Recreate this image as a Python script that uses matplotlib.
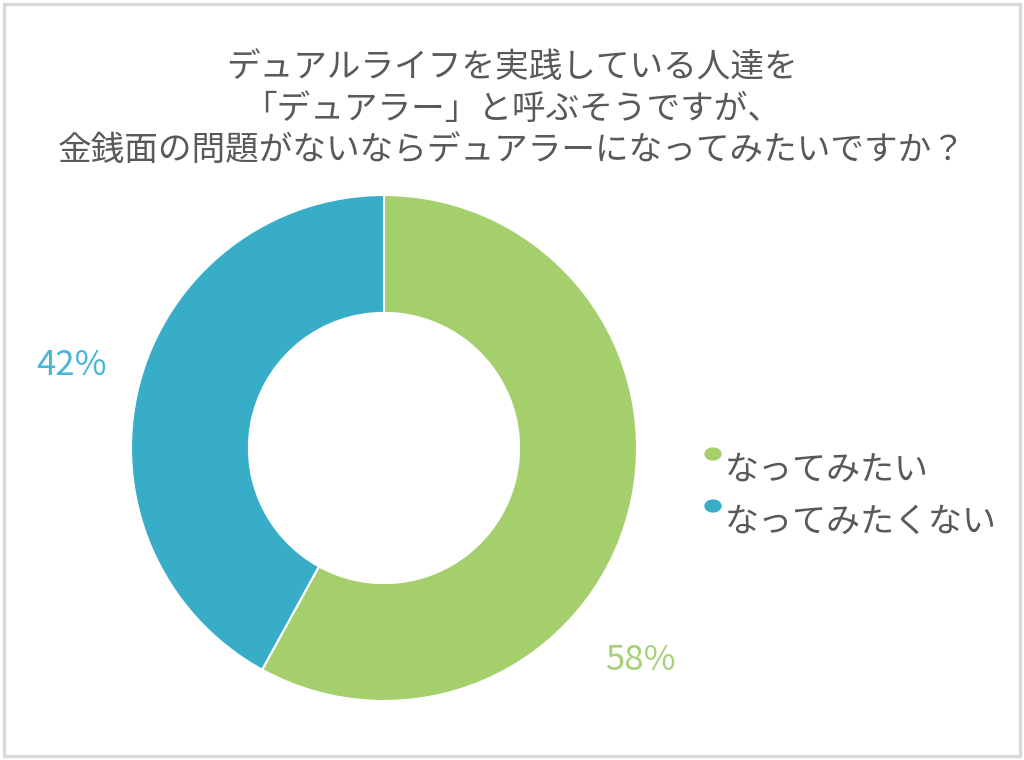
import matplotlib.pyplot as plt
from matplotlib.patches import Rectangle

plt.rcParams['font.family'] = ['Noto Sans CJK JP', 'DejaVu Sans']

title_lines = [
    'デュアルライフを実践している人達を',
    '「デュアラー」と呼ぶそうですが、',
    '金銭面の問題がないならデュアラーになってみたいですか？',
]
categories = ['なってみたい', 'なってみたくない']
shares = [58, 42]
colors = ['#A5CE6C', '#38ADC8']
label_colors = ['#A8D077', '#45B6D6']
text_color = '#595959'


def main():
    fig = plt.figure(figsize=(10.24, 7.6), dpi=100)
    fig.patches.append(Rectangle((0.004, 0.005), 0.992, 0.99, transform=fig.transFigure,
                                 fill=False, edgecolor='#D9D9D9', linewidth=2.5))

    # title, three centred lines
    for i, line in enumerate(title_lines):
        fig.text(0.5, 1 - (68 + 41 * i) / 760, line, ha='center', va='center',
                 fontsize=24.2, color=text_color)

    # donut
    cx, cy, r = 384, 448, 253
    ax = fig.add_axes([(cx - r) / 1024, (760 - cy - r) / 760, 2 * r / 1024, 2 * r / 760])
    ax.pie(shares, colors=colors, startangle=90, counterclock=False, radius=1,
           wedgeprops=dict(width=0.466, edgecolor='white', linewidth=1.5))
    ax.set_xlim(-1, 1)
    ax.set_ylim(-1, 1)
    ax.set_aspect('equal')
    ax.axis('off')

    # percentage labels
    label_pos = [(1.012, -0.838), (-1.233, 0.328)]
    for val, col, (lx, ly) in zip(shares, label_colors, label_pos):
        ax.text(lx, ly, f'{val}%', ha='center', va='center', fontsize=25,
                color=col, clip_on=False)

    # legend
    for i, (name, col) in enumerate(zip(categories, colors)):
        y = 468 + 52 * i
        fig.patches.append(plt.Circle((713 / 1024, 1 - (y - 14) / 760), 0.0078,
                                      transform=fig.transFigure, color=col))
        fig.text(725 / 1024, 1 - (y + 2) / 760, name, ha='left', va='center',
                 fontsize=24.5, color=text_color)

    fig.savefig('out.png', dpi=100)


if __name__ == '__main__':
    main()
